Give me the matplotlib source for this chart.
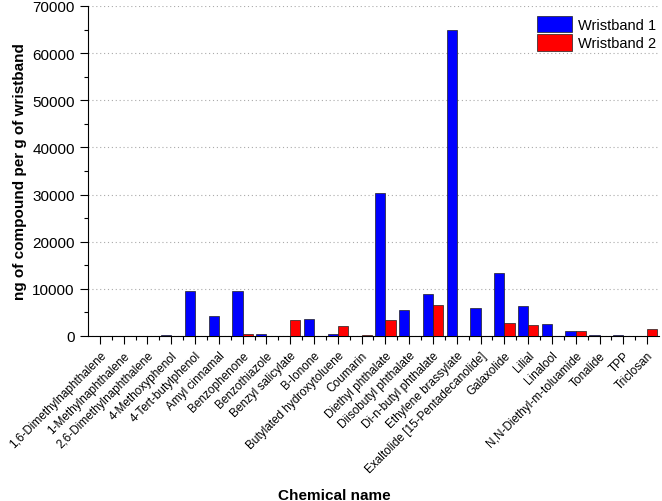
import numpy as np
import matplotlib
matplotlib.use('Agg')
import matplotlib.pyplot as plt
import matplotlib.transforms as mtrans
from matplotlib.ticker import MultipleLocator

plt.rcParams['font.family'] = ['Liberation Sans', 'DejaVu Sans']

chemicals = ['1,6-Dimethylnaphthalene', '1-Methylnaphthalene', '2,6-Dimethylnaphthalene',
             '4-Methoxyphenol', '4-Tert-butylphenol', 'Amyl cinnamal', 'Benzophenone',
             'Benzothiazole', 'Benzyl salicylate', 'B-Ionone', 'Butylated hydroxytoluene',
             'Coumarin', 'Diethyl phthalate', 'Diisobutyl phthalate', 'Di-n-butyl phthalate',
             'Ethylene brassylate', 'Exaltolide [15-Pentadecanolide]', 'Galaxolide', 'Lilial',
             'Linalool', 'N,N-Diethyl-m-toluamide', 'Tonalide', 'TPP', 'Triclosan']
wristband1 = [0, 0, 0, 250, 9500, 4300, 9500, 450, 0, 3600, 500, 0, 30300, 5600, 9000,
              65000, 6000, 13300, 6400, 2550, 1100, 200, 150, 0]
wristband2 = [0, 0, 0, 0, 0, 0, 350, 0, 3450, 0, 2200, 200, 3450, 0, 6650,
              0, 0, 2800, 2400, 0, 1000, 0, 0, 1500]

x = np.arange(len(chemicals))
w = 0.43

fig = plt.figure(figsize=(6.62, 5.02), dpi=100)
ax = fig.add_axes([88/662, 1-337/502, 571/662, 330/502])

ax.bar(x - w/2, wristband1, w, color='#0000FF', edgecolor='#202020', lw=0.5, label='Wristband 1', zorder=3)
ax.bar(x + w/2, wristband2, w, color='#FF0000', edgecolor='#202020', lw=0.5, label='Wristband 2', zorder=3)

ax.set_xlim(-0.5, len(chemicals) - 0.5)
ax.set_ylim(0, 70000)
ax.yaxis.set_major_locator(MultipleLocator(10000))
ax.yaxis.set_minor_locator(MultipleLocator(5000))
ax.set_xticks(x)
ax.set_xticks(x[:-1] + 0.5, minor=True)
ax.set_xticklabels(chemicals, rotation=45, ha='right', rotation_mode='anchor', fontsize=8.5)
# nudge the slanted labels a little to the right like the original
offset = mtrans.ScaledTranslation(5/100, 0, fig.dpi_scale_trans)
for lab in ax.get_xticklabels():
    lab.set_transform(lab.get_transform() + offset)
ax.tick_params(axis='y', labelsize=11)
ax.tick_params(which='major', length=6, width=0.8)
ax.tick_params(which='minor', length=3, width=0.8)
ax.grid(axis='y', linestyle=(0, (1, 2.5)), color='#aaaaaa', lw=0.8, zorder=0)

for s in ['top', 'right']:
    ax.spines[s].set_visible(False)

ax.set_ylabel('ng of compound per g of wristband', fontsize=11, fontweight='bold')
ax.set_xlabel('Chemical name', fontsize=11, fontweight='bold')
ax.xaxis.set_label_coords((334 - 88)/571, -0.462)

leg = ax.legend(loc='upper right', bbox_to_anchor=(662/662, 1-11/502), bbox_transform=fig.transFigure,
                frameon=False, fontsize=10.5, handlelength=2.4, handleheight=1.35,
                handletextpad=0.4, borderaxespad=0, labelspacing=0.15)

fig.savefig('out.png', dpi=100)
